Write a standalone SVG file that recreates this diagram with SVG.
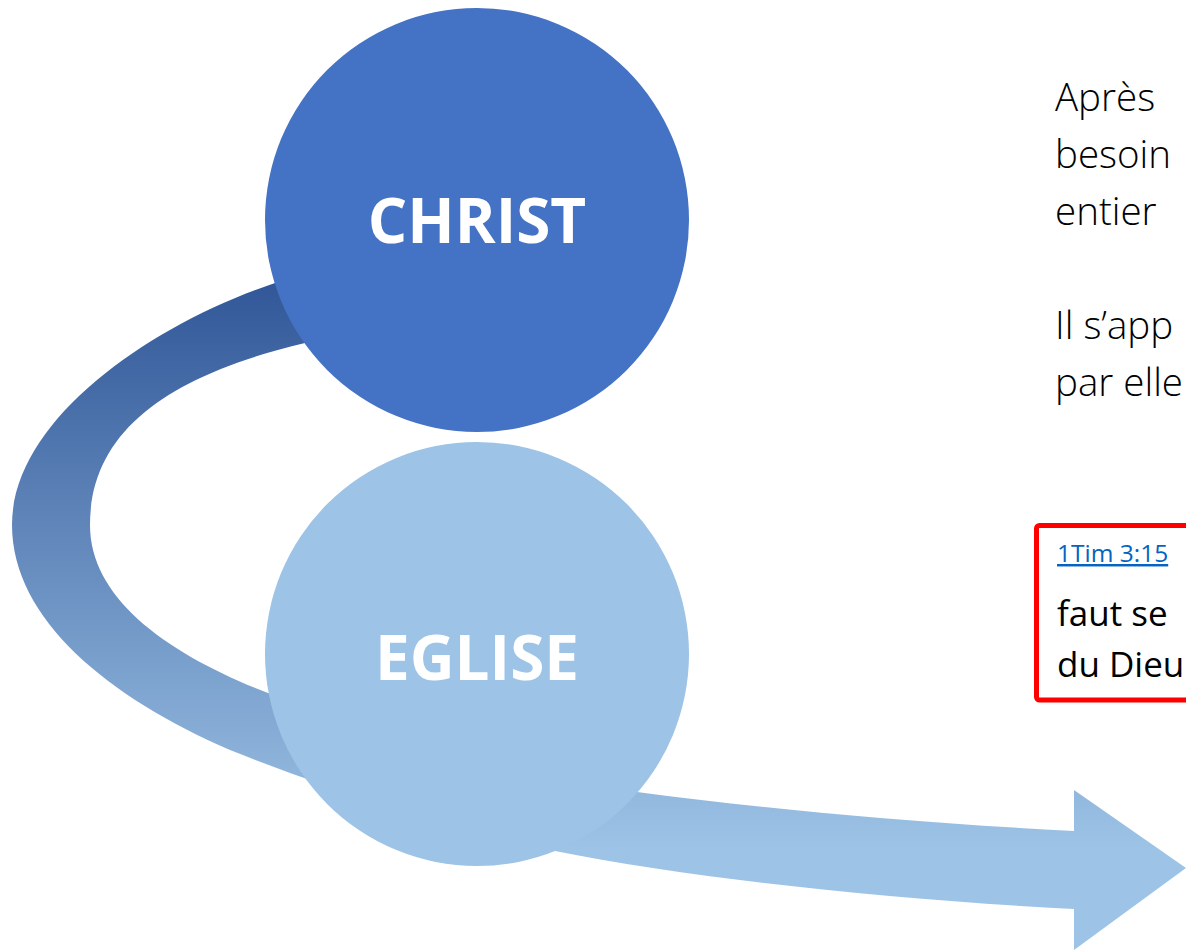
<svg xmlns="http://www.w3.org/2000/svg" width="1186" height="950" viewBox="0 0 1186 950">
  <defs>
    <linearGradient id="bandGrad" gradientUnits="userSpaceOnUse" x1="0" y1="270" x2="0" y2="850">
      <stop offset="0" stop-color="#2F5597"/>
      <stop offset="1" stop-color="#9DC3E6"/>
    </linearGradient>
    <style>
      .circle-text { font-family: "Open Sans", "Liberation Sans", sans-serif; font-weight: 700; font-size: 62px; fill: #FFFFFF; text-anchor: middle; }
      .body { font-family: "Open Sans", "Liberation Sans", sans-serif; font-weight: 300; font-size: 38.5px; fill: #000000; }
      .quote { font-family: "Open Sans", "Liberation Sans", sans-serif; font-weight: 400; font-size: 35px; fill: #000000; }
      .link { font-family: "Open Sans", "Liberation Sans", sans-serif; font-weight: 400; font-size: 24.5px; fill: #0563C1; text-decoration: underline; }
    </style>
  </defs>
  <rect x="0" y="0" width="1186" height="950" fill="#FFFFFF"/>

  <g id="connectors">
    <path id="curved-arrow" fill="url(#bandGrad)" d="M 360,253 L 275,283 C 150,325 12,420 12,525 C 12,620 110,698 230,750 C 330,790 450,828 555,851 C 700,880 900,900 1074,909 L 1074,950 L 1186,868 L 1074,790 L 1074,831 C 900,822 760,808 637,792 C 520,776 380,735 268,693 C 170,655 90,600 90,525 C 90,430 170,375 305,343 L 380,325 Z"/>
  </g>

  <g id="christ">
    <circle cx="477" cy="220" r="212" fill="#4472C4"/>
    <text class="circle-text" x="477" y="243">CHRIST</text>
  </g>

  <g id="eglise">
    <circle cx="477" cy="654" r="212" fill="#9DC3E6"/>
    <text class="circle-text" x="477" y="680">EGLISE</text>
  </g>

  <g id="paragraph">
    <text class="body" x="1055" y="111">Après</text>
    <text class="body" x="1055" y="168">besoin</text>
    <text class="body" x="1055" y="225">entier</text>
    <text class="body" x="1055" y="339">Il s’app</text>
    <text class="body" x="1055" y="396">par elle</text>
  </g>

  <g id="quote-box">
    <rect x="1036.5" y="525.5" width="200" height="174.5" rx="3" fill="none" stroke="#FF0000" stroke-width="5"/>
    <text class="link" x="1057" y="562">1Tim 3:15</text>
    <text class="quote" x="1057" y="626">faut se</text>
    <text class="quote" x="1057" y="677">du Dieu</text>
  </g>
</svg>
